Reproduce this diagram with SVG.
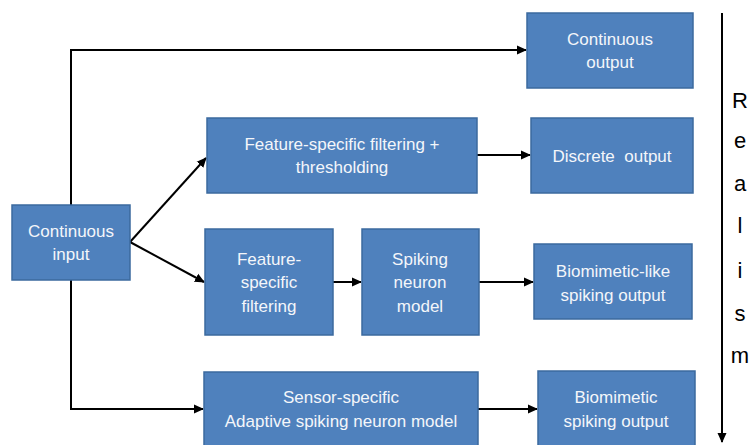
<svg xmlns="http://www.w3.org/2000/svg" width="753" height="445" viewBox="0 0 753 445">
<defs>
<marker id="ah" markerWidth="10" markerHeight="10" refX="9" refY="5" orient="auto" markerUnits="userSpaceOnUse">
<path d="M0,0.5 L10,5 L0,9.5 Z" fill="#000"/>
</marker>
<style>
.box{fill:#4F81BD;stroke:#3B6A9E;stroke-width:1.5}
.t{font-family:"Liberation Sans",Arial,sans-serif;font-size:17px;fill:#F4F6FA;text-anchor:middle}
.c{fill:none;stroke:#000;stroke-width:2}
.r{font-family:"Liberation Sans",Arial,sans-serif;font-size:22px;fill:#000;text-anchor:middle}
</style>
</defs>
<rect width="753" height="445" fill="#fff"/>
<g id="connectors">
<polyline class="c" points="71,205 71,50 526,50" marker-end="url(#ah)"/>
<polyline class="c" points="71,280 71,409 203,409" marker-end="url(#ah)"/>
<line class="c" x1="130" y1="242" x2="206" y2="158" marker-end="url(#ah)"/>
<line class="c" x1="130" y1="242" x2="204" y2="282" marker-end="url(#ah)"/>
<line class="c" x1="477" y1="155" x2="530" y2="155" marker-end="url(#ah)"/>
<line class="c" x1="333" y1="282" x2="361" y2="282" marker-end="url(#ah)"/>
<line class="c" x1="479" y1="282" x2="533" y2="282" marker-end="url(#ah)"/>
<line class="c" x1="478" y1="409" x2="537" y2="409" marker-end="url(#ah)"/>
<line class="c" x1="722" y1="13" x2="722" y2="442" marker-end="url(#ah)"/>
</g>
<g id="continuous-input"><rect class="box" x="12" y="205" width="118" height="75"/><text class="t" x="71" y="237">Continuous</text><text class="t" x="71" y="260">input</text></g>
<g id="continuous-output"><rect class="box" x="527" y="13" width="166" height="75"/><text class="t" x="610" y="45">Continuous</text><text class="t" x="610" y="68">output</text></g>
<g id="feature-thresholding"><rect class="box" x="207" y="118" width="270" height="75"/><text class="t" x="342" y="150">Feature-specific filtering +</text><text class="t" x="342" y="173">thresholding</text></g>
<g id="discrete-output"><rect class="box" x="531" y="118" width="162" height="75"/><text class="t" x="612" y="162" xml:space="preserve">Discrete  output</text></g>
<g id="feature-filtering"><rect class="box" x="205" y="229" width="128" height="106"/><text class="t" x="269" y="265">Feature-</text><text class="t" x="269" y="288">specific</text><text class="t" x="269" y="312">filtering</text></g>
<g id="spiking-neuron"><rect class="box" x="362" y="229" width="117" height="106"/><text class="t" x="420" y="265">Spiking</text><text class="t" x="420" y="288">neuron</text><text class="t" x="420" y="312">model</text></g>
<g id="biomimetic-like"><rect class="box" x="534" y="244" width="158" height="75"/><text class="t" x="613" y="277">Biomimetic-like</text><text class="t" x="613" y="301">spiking output</text></g>
<g id="sensor-specific"><rect class="box" x="204" y="372" width="274" height="80"/><text class="t" x="341" y="403">Sensor-specific</text><text class="t" x="341" y="427">Adaptive spiking neuron model</text></g>
<g id="biomimetic"><rect class="box" x="538" y="371" width="157" height="80"/><text class="t" x="616" y="403">Biomimetic</text><text class="t" x="616" y="427">spiking output</text></g>
<g id="realism">
<text class="r" x="740" y="108">R</text>
<text class="r" x="740" y="148">e</text>
<text class="r" x="740" y="191">a</text>
<text class="r" x="740" y="233">l</text>
<text class="r" x="740" y="278">i</text>
<text class="r" x="740" y="321">s</text>
<text class="r" x="740" y="363">m</text>
</g>
</svg>
